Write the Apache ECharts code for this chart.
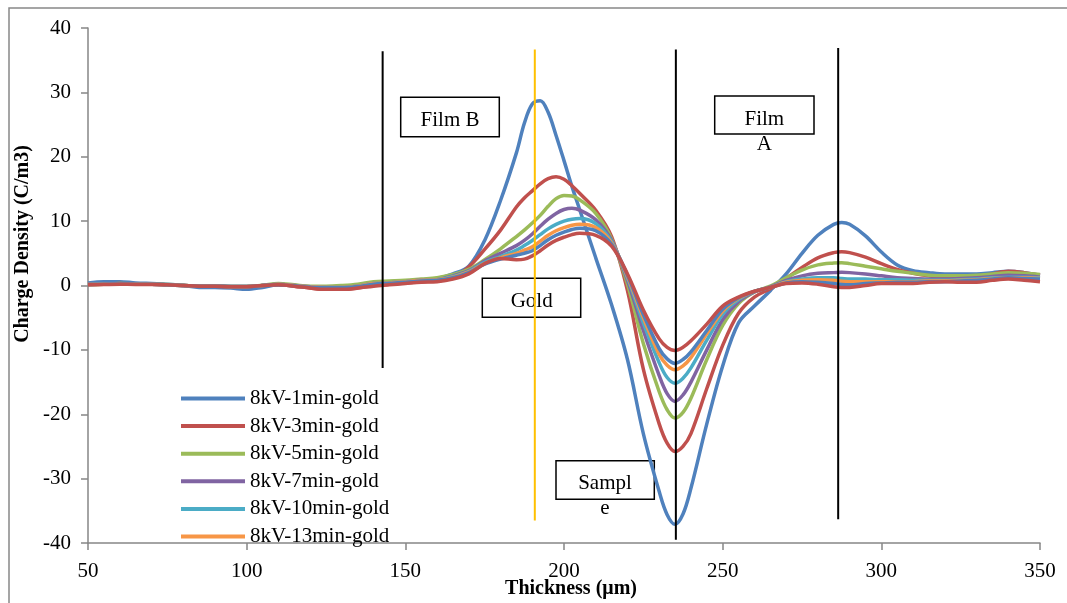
<!DOCTYPE html>
<html>
<head>
<meta charset="utf-8">
<script src="https://cdn.jsdelivr.net/npm/echarts@6/dist/echarts.min.js"></script>
<style>
html,body{margin:0;padding:0;background:#fff;}
#chart{width:1067px;height:603px;}
</style>
</head>
<body>
<div id="chart"></div>
<script>
// Thickness (µm) sample positions
var thickness = [50,55,60,65,70,75,80,85,90,95,100,105,110,115,120,125,130,135,140,145,150,155,160,165,170,175,180,185,
  187.5,190,192.5,195,197.5,200,202.5,205,
  210,215,220,225,230,
  232.5,235,237.5,
  240,245,250,255,260,265,270,275,280,285,
  287.5,
  290,295,300,305,310,315,320,325,330,335,340,345,350];

var seriesNames = ['8kV-1min-gold','8kV-3min-gold','8kV-5min-gold','8kV-7min-gold','8kV-10min-gold','8kV-13min-gold','Series 7','Series 8'];
var seriesColors = ['#4F81BD','#C0504D','#9BBB59','#8064A2','#4BACC6','#F79646','#4F81BD','#C0504D'];

var s1min = [0.4,0.6,0.6,0.4,0.3,0.2,0.0,-0.3,-0.3,-0.4,-0.6,-0.3,0.1,0.0,-0.2,-0.3,-0.2,0.1,0.4,0.6,0.7,0.9,1.1,1.8,3.0,7.0,13.2,20.6,
  25.2,28.2,28.7,26.9,23.3,19.4,15.4,11.7,
  4.3,-3.0,-11.5,-23.0,-32.0,
  -35.6,-37.1,-35.5,
  -31.5,-21.5,-12.5,-5.8,-3.2,-0.8,1.8,5.0,7.8,9.5,
  9.8,
  9.5,7.7,5.2,3.2,2.3,2.0,1.8,1.8,1.8,2.0,2.2,2.0,1.6];
var s3min = [0.2,0.2,0.3,0.2,0.2,0.1,0.0,-0.1,-0.1,-0.2,-0.2,0.0,0.1,-0.1,-0.4,-0.6,-0.6,-0.4,0.0,0.2,0.4,0.6,0.7,1.2,2.9,5.6,8.6,12.2,
  13.6,14.7,15.8,16.6,16.9,16.5,15.5,14.3,
  11.7,7.6,-0.8,-13.0,-21.5,
  -24.5,-25.8,-25.0,
  -23.0,-16.0,-9.3,-4.3,-1.8,-0.5,1.1,2.8,4.3,5.1,
  5.25,
  5.1,4.4,3.4,2.5,1.9,1.5,1.3,1.3,1.4,1.8,2.2,2.0,1.6];
var s5min = [0.1,0.2,0.3,0.25,0.2,0.15,0.05,-0.1,-0.1,-0.15,-0.15,0.05,0.3,0.1,-0.1,-0.1,0.0,0.2,0.6,0.7,0.8,1.0,1.2,1.7,2.5,4.0,5.7,7.6,
  8.6,9.7,10.9,12.3,13.5,14.0,13.9,13.3,
  11.2,7.2,0.2,-9.0,-16.5,
  -19.3,-20.6,-19.7,
  -17.5,-11.5,-6.2,-2.8,-1.0,-0.1,1.2,2.4,3.2,3.5,
  3.55,
  3.4,3.0,2.6,2.2,1.9,1.6,1.5,1.5,1.6,1.8,2.0,1.9,1.7];
var s7min = [0.15,0.2,0.25,0.2,0.2,0.1,0.0,-0.1,-0.1,-0.15,-0.15,0.0,0.2,0.0,-0.2,-0.3,-0.3,-0.1,0.3,0.4,0.6,0.8,0.9,1.5,2.3,3.8,5.0,6.2,
  7.0,8.0,9.2,10.3,11.2,11.8,12.0,11.7,
  10.2,7.0,0.8,-7.0,-14.0,
  -16.8,-18.0,-17.0,
  -15.0,-10.0,-5.3,-2.5,-1.0,-0.2,0.8,1.5,1.9,2.0,
  2.05,
  2.0,1.8,1.5,1.2,1.1,1.0,1.0,1.1,1.2,1.4,1.6,1.5,1.3];
var s10min = [0.15,0.2,0.25,0.2,0.2,0.1,0.0,-0.1,-0.1,-0.15,-0.15,0.0,0.2,0.0,-0.2,-0.3,-0.3,-0.1,0.3,0.4,0.6,0.8,0.9,1.4,2.2,3.6,4.5,5.5,
  6.2,7.0,7.9,8.8,9.5,10.0,10.3,10.4,
  9.6,6.8,1.2,-5.8,-12.0,
  -14.3,-15.2,-14.4,
  -12.8,-8.5,-4.5,-2.2,-0.9,-0.3,0.6,1.0,1.2,1.2,
  1.1,
  1.0,1.0,0.9,0.9,0.8,0.8,0.8,0.9,1.0,1.2,1.3,1.3,1.2];
var s13min = [0.15,0.2,0.25,0.2,0.2,0.1,0.0,-0.1,-0.1,-0.15,-0.15,0.0,0.2,0.0,-0.2,-0.3,-0.3,-0.1,0.3,0.4,0.6,0.8,0.9,1.3,2.1,3.4,4.3,5.0,
  5.5,6.0,6.9,7.8,8.5,9.0,9.35,9.5,
  9.0,6.6,1.4,-5.0,-10.7,
  -12.4,-13.1,-12.5,
  -11.2,-7.5,-4.0,-2.0,-0.9,-0.3,0.5,0.8,0.9,0.8,
  0.65,
  0.6,0.6,0.6,0.6,0.6,0.7,0.7,0.8,0.9,1.1,1.2,1.2,1.1];
var s7 = [0.15,0.2,0.25,0.2,0.2,0.1,0.0,-0.1,-0.1,-0.15,-0.15,0.0,0.1,-0.05,-0.25,-0.35,-0.35,-0.15,0.2,0.35,0.5,0.7,0.8,1.2,2.0,3.3,4.1,4.7,
  5.0,5.4,6.2,7.1,7.8,8.3,8.7,8.9,
  8.5,6.4,1.6,-4.5,-9.8,
  -11.4,-12.1,-11.5,
  -10.3,-7.0,-3.7,-1.9,-0.9,-0.3,0.4,0.6,0.5,0.3,
  0.15,
  0.1,0.3,0.4,0.5,0.5,0.6,0.6,0.7,0.8,1.0,1.2,1.1,1.0];
var s8 = [0.1,0.15,0.2,0.15,0.15,0.1,0.0,-0.1,-0.1,-0.2,-0.2,0.0,0.1,-0.1,-0.4,-0.6,-0.6,-0.4,-0.1,0.1,0.3,0.5,0.6,1.0,1.8,3.4,4.2,4.0,
  4.1,4.6,5.4,6.3,7.0,7.5,7.9,8.1,
  7.8,6.1,1.8,-3.8,-8.3,
  -9.6,-10.1,-9.6,
  -8.6,-6.0,-3.2,-1.8,-0.9,-0.3,0.3,0.4,0.2,-0.2,
  -0.3,
  -0.3,0.0,0.3,0.3,0.3,0.5,0.6,0.5,0.5,0.8,1.0,0.8,0.6];

var seriesValues = [s1min,s3min,s5min,s7min,s10min,s13min,s7,s8];

// Vertical region markers (thickness, top value, bottom value)
var markerX = [142.85,190.8,235.25,286.4];
var markerTop = [36.4,36.65,36.65,36.9];
var markerBottom = [-12.8,-36.5,-39.5,-36.3];
var markerColors = ['#000000','#FFC000','#000000','#000000'];

var xTicks = {min:50,max:350,interval:50};
var yTicks = {min:-40,max:40,interval:10};

var FONT = '"Liberation Serif","Times New Roman",serif';

var series = [];
for (var k = 0; k < seriesValues.length; k++) {
  var pts = [];
  for (var i = 0; i < thickness.length; i++) pts.push([thickness[i], seriesValues[k][i]]);
  series.push({
    name: seriesNames[k], type: 'line', data: pts, smooth: 0.35, showSymbol: false, symbol: 'none',
    lineStyle: {width: 3.5, color: seriesColors[k]}, itemStyle: {color: seriesColors[k]}, z: 2 + k
  });
}
for (var m = 0; m < markerX.length; m++) {
  series.push({
    name: 'marker' + m, type: 'line', data: [[markerX[m], markerBottom[m]], [markerX[m], markerTop[m]]],
    showSymbol: false, symbol: 'none', lineStyle: {width: 2, color: markerColors[m]}, z: 20, silent: true
  });
}

function box(x, y, w, h, lines, tx, ty) {
  var children = [{type: 'rect', shape: {x: x, y: y, width: w, height: h},
    style: {fill: '#fff', stroke: '#000', lineWidth: 1.5}}];
  for (var i = 0; i < lines.length; i++) {
    children.push({type: 'text', x: tx, y: ty + i * 25,
      style: {text: lines[i], font: '21px ' + FONT, fill: '#000', textAlign: 'center', textVerticalAlign: 'middle'}});
  }
  return {type: 'group', z: 100, children: children};
}

var chart = echarts.init(document.getElementById('chart'), null, {renderer: 'canvas'});
chart.setOption({
  animation: false,
  backgroundColor: '#fff',
  grid: {left: 88, right: 27, top: 28, bottom: 60},
  legend: {
    data: seriesNames.slice(0, 6), orient: 'vertical', left: 176, top: 383,
    icon: 'rect', itemWidth: 64, itemHeight: 4, itemGap: 6.6, itemTextGap: 4, z: 50,
    textStyle: {fontFamily: FONT, fontSize: 21, color: '#000', lineHeight: 21}
  },
  xAxis: {
    type: 'value', min: xTicks.min, max: xTicks.max, interval: xTicks.interval,
    axisLine: {onZero: false, lineStyle: {color: '#868686', width: 1.5}},
    axisTick: {show: true, length: 7, lineStyle: {color: '#868686', width: 1.5}},
    axisLabel: {fontFamily: FONT, fontSize: 21, color: '#000', margin: 18},
    splitLine: {show: false}
  },
  yAxis: {
    type: 'value', min: yTicks.min, max: yTicks.max, interval: yTicks.interval,
    axisLine: {show: true, lineStyle: {color: '#868686', width: 1.5}},
    axisTick: {show: true, length: 7, lineStyle: {color: '#868686', width: 1.5}},
    axisLabel: {fontFamily: FONT, fontSize: 21, color: '#000', margin: 17},
    splitLine: {show: false}
  },
  series: series,
  graphic: [
    {type: 'rect', z: 0, shape: {x: 9, y: 8, width: 1200, height: 800},
      style: {fill: 'none', stroke: '#888', lineWidth: 1.5}},
    {type: 'text', x: 571, y: 589, z: 100,
      style: {text: 'Thickness (\u03bcm)', font: 'bold 20px ' + FONT, fill: '#000', textAlign: 'center', textVerticalAlign: 'middle'}},
    {type: 'text', x: 23, y: 244, rotation: Math.PI / 2, z: 100,
      style: {text: 'Charge Density (C/m3)', font: 'bold 20px ' + FONT, fill: '#000', textAlign: 'center', textVerticalAlign: 'middle'}},
    box(400.7, 97.3, 98.6, 39.4, ['Film B'], 450, 120),
    box(482.3, 278.3, 98.4, 39, ['Gold'], 531.7, 301.7),
    box(714.7, 96, 99.3, 38, ['Film', 'A'], 764.3, 119),
    box(556, 460.7, 98.3, 38.6, ['Sampl', 'e'], 605, 483.3)
  ]
});
</script>
</body>
</html>
